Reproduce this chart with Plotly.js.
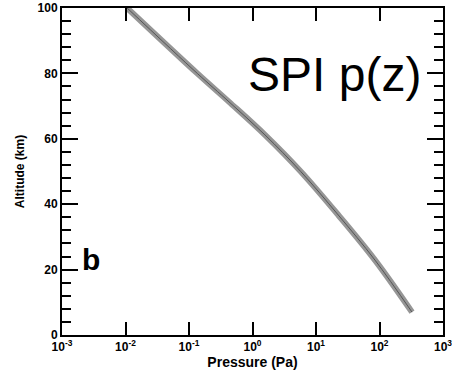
<!DOCTYPE html>
<html>
<head>
<meta charset="utf-8">
<script src="https://cdn.plot.ly/plotly-3.0.1.min.js"></script>
<style>html,body{margin:0;padding:0;background:#fff;}#chart{width:452px;height:373px;}</style>
</head>
<body>
<div id="chart"></div>
<script>
// Altitude (km) and pressure (Pa) read from the SPI p(z) profile
const altitude = [100, 80, 71.3, 61.2, 50, 36.7, 22.9, 7];
const pressure = [0.0106, 0.135, 0.427, 1.57, 5.75, 22.4, 84.9, 325];
const xTickVals = [0.001, 0.01, 0.1, 1, 10, 100, 1000];
const xTickText = ['10<sup>-3</sup>', '10<sup>-2</sup>', '10<sup>-1</sup>', '10<sup>0</sup>', '10<sup>1</sup>', '10<sup>2</sup>', '10<sup>3</sup>'];
const yTickVals = [0, 20, 40, 60, 80, 100];
const chartLabel = 'SPI p(z)';
const panelLabel = 'b';

const tickFont = {family: 'Liberation Sans, Arial, sans-serif', size: 12, color: '#000', weight: 'bold'};

const traces = [
  {x: pressure, y: altitude, mode: 'lines', line: {color: '#969696', width: 6, shape: 'spline', smoothing: 1}, hoverinfo: 'skip'},
  {x: pressure, y: altitude, mode: 'lines', line: {color: '#555555', width: 1, shape: 'spline', smoothing: 1}, hoverinfo: 'skip'}
];

const layout = {
  width: 452, height: 373,
  margin: {l: 62, r: 9, t: 8, b: 38},
  paper_bgcolor: '#fff', plot_bgcolor: '#fff',
  showlegend: false,
  xaxis: {
    type: 'log', range: [-3, 3],
    tickvals: xTickVals, ticktext: xTickText,
    ticks: 'inside', ticklen: 13, tickwidth: 2, tickcolor: '#000',
    showline: true, linewidth: 2, linecolor: '#000', mirror: 'ticks',
    showgrid: false, zeroline: false,
    tickfont: tickFont, ticklabeloverflow: 'allow',
    title: {text: 'Pressure (Pa)', font: {family: 'Liberation Sans, Arial, sans-serif', size: 14, color: '#000', weight: 'bold'}, standoff: 3},
    automargin: false
  },
  yaxis: {
    range: [0, 100],
    tickvals: yTickVals,
    ticks: 'inside', ticklen: 16, tickwidth: 2, tickcolor: '#000',
    minor: {dtick: 4, ticks: 'inside', ticklen: 9, tickwidth: 2, tickcolor: '#000', showgrid: false},
    showline: true, linewidth: 2, linecolor: '#000', mirror: 'ticks',
    showgrid: false, zeroline: false,
    tickfont: tickFont,
    title: {text: 'Altitude (km)', font: {family: 'Liberation Sans, Arial, sans-serif', size: 12, color: '#000', weight: 'bold'}, standoff: 10},
    automargin: false
  },
  annotations: [
    {text: chartLabel, xref: 'paper', yref: 'paper', x: 0.483, y: 0.797, xanchor: 'left', yanchor: 'middle', showarrow: false,
     font: {family: 'Liberation Sans, Arial, sans-serif', size: 48, color: '#000'}},
    {text: panelLabel, xref: 'paper', yref: 'paper', x: 0.075, y: 0.232, xanchor: 'center', yanchor: 'middle', showarrow: false,
     font: {family: 'Liberation Sans, Arial, sans-serif', size: 30, color: '#000', weight: 'bold'}}
  ]
};

Plotly.newPlot('chart', traces, layout, {displayModeBar: false, staticPlot: true});
</script>
</body>
</html>
